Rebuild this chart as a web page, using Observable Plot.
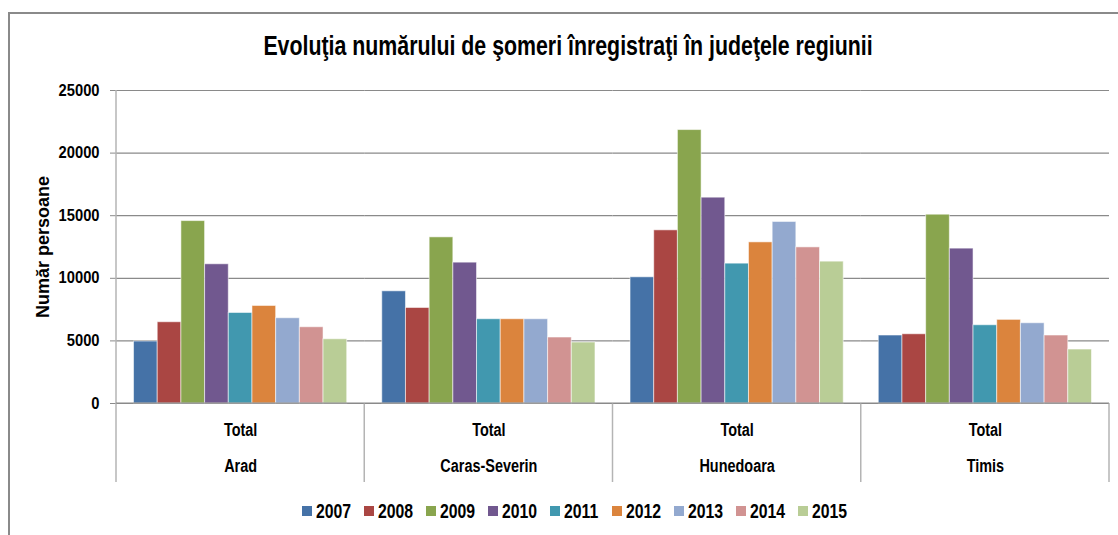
<!DOCTYPE html>
<html>
<head>
<meta charset="utf-8">
<script src="https://cdn.jsdelivr.net/npm/d3@7"></script>
<script src="https://cdn.jsdelivr.net/npm/@observablehq/plot@0.6"></script>
<style>
  html, body { margin: 0; padding: 0; background: #fff; }
  body { width: 1118px; height: 535px; overflow: hidden; position: relative;
         font-family: "Liberation Sans Narrow", "Arial Narrow", "Liberation Sans", Arial, sans-serif; font-weight: bold; color: #000; }
  #border { position: absolute; left: 8px; top: 12px; width: 1300px; height: 700px; border: 2px solid #8a8a8a; box-sizing: border-box; }
  #title { position: absolute; top: 30px; left: 568px; white-space: nowrap; font-size: 27px; line-height: 32px;
           transform: translateX(-50%) scaleX(0.79); transform-origin: 50% 50%; }
  #chart { position: absolute; left: 0; top: 80px; }
  #legend { position: absolute; top: 500px; left: 302px; height: 22px; font-size: 20px; line-height: 22px; }
  #legend .item { position: absolute; top: 0; height: 22px; }
  #legend .sw { position: absolute; left: 0; top: 6px; width: 10px; height: 10px; }
  #legend .lb { position: absolute; left: 14px; top: 0; white-space: nowrap; transform: scaleX(0.79); transform-origin: 0 50%; }
</style>
</head>
<body>
<div id="border"></div>
<div id="title">Evoluţia numărului de şomeri înregistraţi în judeţele regiunii</div>
<div id="chart"></div>
<div id="legend"></div>
<script>
const counties = ["Arad", "Caras-Severin", "Hunedoara", "Timis"];
const subLabel = "Total";
const years = ["2007", "2008", "2009", "2010", "2011", "2012", "2013", "2014", "2015"];
const arad         = [4950, 6490, 14570, 11120, 7230, 7790, 6810, 6090, 5130];
const carasSeverin = [8960, 7630, 13270, 11250, 6730, 6730, 6730, 5270, 4870];
const hunedoara    = [10080, 13830, 21840, 16440, 11170, 12870, 14500, 12470, 11330];
const timis        = [5430, 5530, 15080, 12370, 6250, 6680, 6410, 5430, 4310];
const yTicks = [0, 5000, 10000, 15000, 20000, 25000];
const yLabel = "Număr persoane";
const colors = ["#4572A7", "#AA4643", "#89A54E", "#71588F", "#4198AF", "#DB843D", "#93A9CF", "#D19392", "#B9CD96"];

const seriesByCounty = [arad, carasSeverin, hunedoara, timis];
const data = [];
counties.forEach((c, i) => years.forEach((y, j) => data.push({county: c, year: y, value: seriesByCounty[i][j]})));

const FONT = '"Liberation Sans Narrow", "Arial Narrow", "Liberation Sans", Arial, sans-serif';

const plot = Plot.plot({
  width: 1118,
  height: 403,
  marginLeft: 116,
  marginRight: 9,
  marginTop: 10,
  marginBottom: 80,
  style: {fontFamily: FONT, fontSize: "18px", fontWeight: "bold", color: "#000", background: "transparent", overflow: "visible"},
  fx: {domain: counties, padding: 0, round: false, axis: null},
  x: {domain: years, paddingInner: 0, paddingOuter: 0.74, round: false, axis: null},
  y: {domain: [0, 25000], axis: null},
  color: {domain: years, range: colors},
  marks: [
    Plot.gridY(yTicks, {stroke: "#8a8a8a", strokeOpacity: 1, strokeWidth: 1.2}),
    Plot.barY(data, {fx: "county", x: "year", y: "value", fill: "year", stroke: "#fff", strokeOpacity: 0.55, strokeWidth: 1}),
    Plot.axisY(yTicks, {anchor: "left", tickSize: 6, tickPadding: 11, stroke: "#8a8a8a", tickFormat: d => String(d), fontSize: 16,
      label: yLabel, labelAnchor: "center", labelArrow: "none", labelOffset: 80}),
    Plot.axisFx({anchor: "bottom", tickSize: 0, tickPadding: 19, tickFormat: () => subLabel, label: null, fontSize: 19}),
    Plot.axisFx({anchor: "bottom", tickSize: 0, tickPadding: 55, tickFormat: d => d, label: null, fontSize: 19})
  ]
});
document.getElementById("chart").appendChild(plot);

// condense axis tick labels horizontally (narrow face look), keeping their anchors
function condense(sel, sx) {
  sel.each(function () {
    const t = d3.select(this);
    const x = +(t.attr("x") || 0);
    if (x) t.attr("x", x / sx);
    const tr = t.attr("transform") || "";
    t.attr("transform", (tr + ` scale(${sx},1)`).trim());
  });
}
const svg = d3.select(plot);
condense(svg.selectAll('g[aria-label="y-axis tick label"] text'), 0.92);
condense(svg.selectAll('g[aria-label="fx-axis tick label"] text'), 0.76);
svg.selectAll('g[aria-label="y-axis label"]').attr("font-size", 18).selectAll("text").attr("font-size", 18);

// category separators below the axis, placed with the fx and y scales
const fx = plot.scale("fx");
const ys = plot.scale("y");
const y0 = ys.apply(0);
const yTop = ys.apply(25000);
const ext = 79;
const bounds = counties.map(c => fx.apply(c));
bounds.push(fx.apply(counties[counties.length - 1]) + fx.bandwidth);
const g = svg.append("g").attr("stroke", "#b4b4b4").attr("stroke-width", 1.5);
bounds.forEach((bx, i) => {
  g.append("line").attr("x1", bx).attr("x2", bx)
    .attr("y1", i === 0 ? yTop : y0).attr("y2", y0 + ext);
});
svg.append("line").attr("x1", bounds[0]).attr("x2", bounds[bounds.length - 1])
  .attr("y1", y0).attr("y2", y0).attr("stroke", "#8a8a8a").attr("stroke-width", 1.2);

// legend
const legend = d3.select("#legend");
years.forEach((y, i) => {
  const it = legend.append("div").attr("class", "item").style("left", (i * 62) + "px");
  it.append("span").attr("class", "sw").style("background", colors[i]);
  it.append("span").attr("class", "lb").text(y);
});
</script>
</body>
</html>
